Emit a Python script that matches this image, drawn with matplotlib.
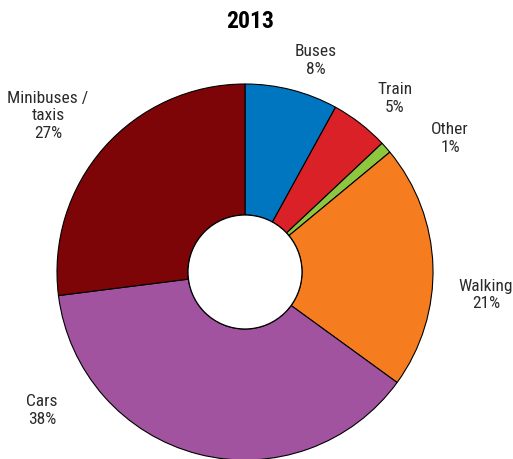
import matplotlib
matplotlib.use("Agg")
import matplotlib.pyplot as plt
from matplotlib import font_manager
from matplotlib.font_manager import FontProperties
from matplotlib.patches import Circle

# Modal split, 2013 (share of trips, %)
modes = ["Buses", "Train", "Other", "Walking", "Cars", "Minibuses /\ntaxis"]
shares = [8, 5, 1, 21, 38, 27]
colors = ["#0076C0", "#DA2128", "#8DC63F", "#F57D20", "#A1539F", "#7D0507"]


def pick_font(bold):
    """Prefer a narrow sans face; fall back to Liberation Sans."""
    entries = font_manager.fontManager.ttflist
    want_w = 700 if bold else 400
    prefs = ["Liberation Sans Narrow", "Roboto Condensed", "Open Sans Condensed",
             "DejaVu Sans Condensed"]
    for key in prefs:
        cands = []
        for f in entries:
            tag = (f.name + " " + f.fname).replace("-", " ")
            flat = tag.replace(" ", "").lower()
            if key.replace(" ", "").lower() not in flat and not (
                    key == "DejaVu Sans Condensed" and f.name == "DejaVu Sans"
                    and f.stretch == "condensed"):
                continue
            if f.style != "normal":
                continue
            w = f.weight if isinstance(f.weight, int) else (700 if "bold" in str(f.weight) else 400)
            cands.append((abs(w - want_w), f.fname))
        if cands:
            cands.sort()
            return FontProperties(fname=cands[0][1]), True
    return FontProperties(family="Liberation Sans",
                          weight="bold" if bold else "normal"), False


fp_lab, narrow = pick_font(False)
fp_tit, _ = pick_font(True)
lab_size = 12.5 if narrow else 11
tit_size = 17 if narrow else 15

W, H = 513, 460
fig = plt.figure(figsize=(W / 100, H / 100), dpi=100)
ax = fig.add_axes([0, 0, 1, 1])

cx, cy = 245, H - 273
r_out, r_in = 188, 57

ax.pie(shares, colors=colors, startangle=90, counterclock=False,
       radius=r_out, center=(cx, cy), frame=True,
       wedgeprops=dict(width=r_out - r_in, edgecolor="black", linewidth=0.8))
ax.set_xlim(0, W)
ax.set_ylim(0, H)
ax.set_aspect("equal")
ax.axis("off")
ax.add_patch(Circle((cx, cy), r_in, facecolor="white", edgecolor="black",
                    linewidth=0.9, zorder=5))

# label anchor points (pixels from top-left)
label_pos = [(316, 60), (395, 99), (450, 138), (486, 295), (42, 411), (48, 116)]
for name, val, (px, py) in zip(modes, shares, label_pos):
    ax.text(px, H - py, f"{name}\n{val}%", ha="center", va="center",
            fontproperties=fp_lab, fontsize=lab_size, color="#2a2a2a",
            linespacing=1.25)

ax.text(W / 2 - 6, H - 22, "2013", ha="center", va="center",
        fontproperties=fp_tit, fontsize=tit_size, fontweight="bold",
        color="black")

fig.savefig("out.png", dpi=100)
